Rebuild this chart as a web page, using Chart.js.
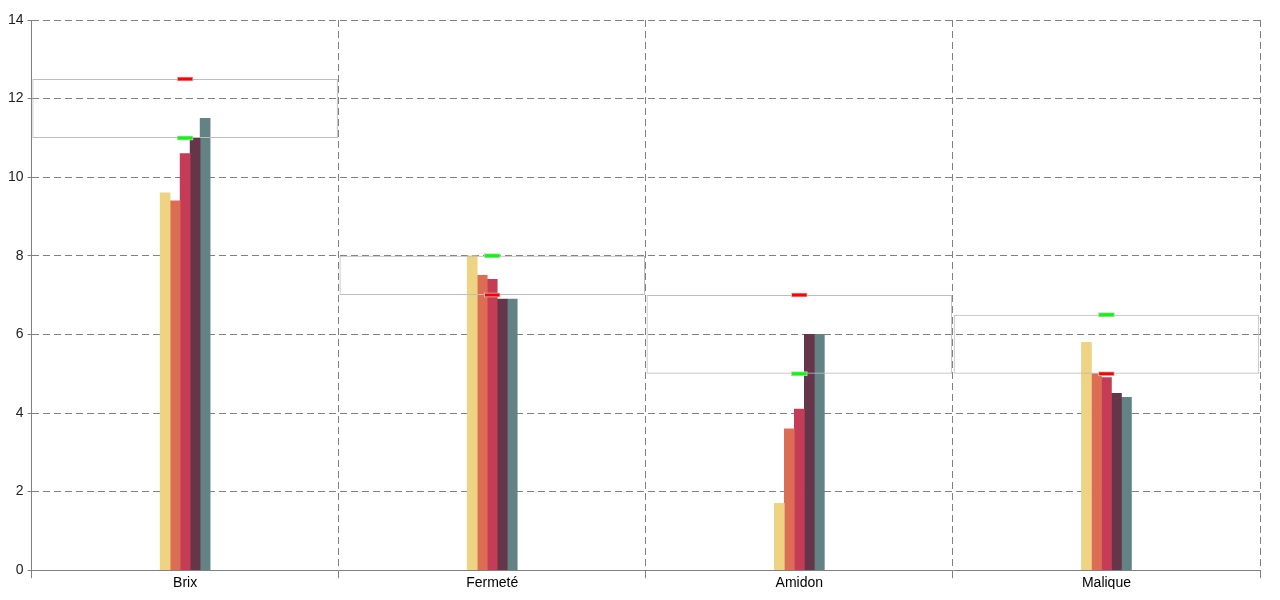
<!DOCTYPE html>
<html>
<head>
<meta charset="utf-8">
<script src="https://cdn.jsdelivr.net/npm/chart.js@4"></script>
<style>
  body { margin: 0; background: #fff; }
</style>
</head>
<body>
<canvas id="chart" width="1280" height="600"></canvas>
<script>
// categories and values
const categories = ["Brix", "Fermeté", "Amidon", "Malique"];
const serie1 = [9.6, 8.0, 1.7, 5.8];
const serie2 = [9.4, 7.5, 3.6, 5.0];
const serie3 = [10.6, 7.4, 4.1, 4.9];
const serie4 = [11.0, 6.9, 6.0, 4.5];
const serie5 = [11.5, 6.9, 6.0, 4.4];
const redMarks = [12.5, 7, 7, 5];
const greenMarks = [11, 8, 5, 6.5];
const yTicks = [0, 2, 4, 6, 8, 10, 12, 14];

const barColors = ["#edd382", "#dd6c54", "#c53c56", "#65354a", "#638284"];
const series = [serie1, serie2, serie3, serie4, serie5];

function barSet(values, i) {
  return {
    type: "bar",
    label: "Série " + (i + 1),
    data: values,
    backgroundColor: barColors[i],
    barThickness: 10,
    order: 2
  };
}

function markSet(values, color) {
  return {
    type: "bar",
    data: values.map(v => [v - 0.055, v + 0.055]),
    backgroundColor: color,
    borderColor: "#c8c8c8",
    borderWidth: 1,
    borderSkipped: false,
    barThickness: 16,
    grouped: false,
    order: 0
  };
}

const boxSet = {
  type: "bar",
  data: categories.map((c, i) => [Math.min(redMarks[i], greenMarks[i]), Math.max(redMarks[i], greenMarks[i])]),
  backgroundColor: "rgba(0,0,0,0)",
  borderColor: "#bdbdbd",
  borderWidth: 1,
  borderSkipped: false,
  categoryPercentage: 1,
  barPercentage: 0.995,
  grouped: false,
  order: 1
};

const datasets = series.map(barSet);
datasets.push(boxSet);
datasets.push(markSet(redMarks, "#ff0000"));
datasets.push(markSet(greenMarks, "#00ff00"));

new Chart(document.getElementById("chart"), {
  type: "bar",
  data: { labels: categories, datasets: datasets },
  options: {
    responsive: false,
    animation: false,
    layout: { padding: { left: 4, top: 20, right: 20, bottom: 11 } },
    plugins: { legend: { display: false }, tooltip: { enabled: false } },
    scales: {
      x: {
        grid: { color: "#808080", tickLength: 8, offset: true },
        border: { color: "#808080", dash: [7, 4] },
        ticks: { color: "#000", font: { family: "Liberation Sans", size: 14 }, padding: -3 }
      },
      y: {
        min: 0,
        max: 14,
        afterBuildTicks: axis => { axis.ticks = yTicks.map(v => ({ value: v })); },
        grid: { color: "#808080", tickLength: 4 },
        border: { color: "#808080", dash: [7, 4] },
        ticks: { color: "#222", font: { family: "Liberation Sans", size: 14 }, padding: 4 }
      }
    }
  }
});
</script>
</body>
</html>
